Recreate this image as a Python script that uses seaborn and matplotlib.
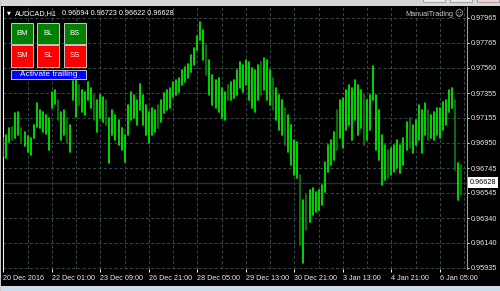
import numpy as np
import pandas as pd
import matplotlib
matplotlib.use("Agg")
import matplotlib.pyplot as plt
from matplotlib.patches import Rectangle
from matplotlib.transforms import blended_transform_factory
from matplotlib.ticker import MultipleLocator
import seaborn as sns

# ---------------- data ----------------
symbol_title = "AUDCAD,H1"
ohlc_text = "0.96694 0.96723 0.96622 0.96628"
current_price = 0.96628
current_label = "0.96628"

# each drawn bar covers two hourly bars (hour index = 2 * bar number)
highs = [0.96990, 0.97015, 0.97072, 0.97080, 0.97193, 0.97202, 0.97072, 0.97039, 0.97007, 0.96990,
         0.97096, 0.97275, 0.97218, 0.97202, 0.97177, 0.97153, 0.97364, 0.97380, 0.97299, 0.97202,
         0.97218, 0.97153, 0.97096, 0.97453, 0.97461, 0.97421, 0.97380, 0.97364, 0.97445, 0.97396,
         0.97340, 0.97299, 0.97340, 0.97323, 0.97299, 0.97153, 0.97218, 0.97177, 0.97137, 0.97072,
         0.97015, 0.97258, 0.97364, 0.97340, 0.97299, 0.97429, 0.97340, 0.97258, 0.97202, 0.97234,
         0.97218, 0.97258, 0.97299, 0.97356, 0.97380, 0.97396, 0.97445, 0.97461, 0.97478, 0.97543,
         0.97567, 0.97591, 0.97664, 0.97721, 0.97819, 0.97932, 0.97867, 0.97746, 0.97624, 0.97502,
         0.97461, 0.97478, 0.97396, 0.97364, 0.97421, 0.97445, 0.97461, 0.97543, 0.97608, 0.97583,
         0.97624, 0.97608, 0.97559, 0.97543, 0.97583, 0.97608, 0.97640, 0.97624, 0.97543, 0.97478,
         0.97396, 0.97340, 0.97299, 0.97234, 0.97177, 0.97096, 0.96974, 0.96958, 0.96690, 0.96487,
         0.96528, 0.96568, 0.96585, 0.96552, 0.96568, 0.96609, 0.96796, 0.96934, 0.96974, 0.97039,
         0.97218, 0.97299, 0.97315, 0.97380, 0.97421, 0.97396, 0.97461, 0.97421, 0.97380, 0.97340,
         0.97299, 0.97340, 0.97575, 0.97340, 0.97218, 0.97015, 0.96934, 0.96893, 0.96909, 0.96934,
         0.96974, 0.96934, 0.96990, 0.97120, 0.97153, 0.97096, 0.97137, 0.97258, 0.97218, 0.97275,
         0.97218, 0.97177, 0.97202, 0.97234, 0.97234, 0.97283, 0.97299, 0.97380, 0.97396, 0.97299,
         0.96787, 0.96771]
lows = [0.96844, 0.96828, 0.96958, 0.96974, 0.96990, 0.97015, 0.96950, 0.96925, 0.96877, 0.96852,
        0.96990, 0.97080, 0.97072, 0.97039, 0.97023, 0.96893, 0.97234, 0.97267, 0.97137, 0.96974,
        0.97015, 0.96950, 0.96877, 0.97299, 0.97161, 0.97258, 0.97202, 0.97177, 0.97299, 0.97234,
        0.97137, 0.97039, 0.97153, 0.97120, 0.97096, 0.96787, 0.97015, 0.96974, 0.96934, 0.96893,
        0.96796, 0.97015, 0.97137, 0.97153, 0.97096, 0.97218, 0.97096, 0.97015, 0.96950, 0.97015,
        0.97039, 0.97072, 0.97120, 0.97193, 0.97218, 0.97234, 0.97323, 0.97340, 0.97364, 0.97421,
        0.97445, 0.97478, 0.97526, 0.97583, 0.97705, 0.97786, 0.97624, 0.97502, 0.97340, 0.97258,
        0.97234, 0.97202, 0.97153, 0.97137, 0.97299, 0.97299, 0.97315, 0.97340, 0.97396, 0.97364,
        0.97421, 0.97299, 0.97234, 0.97202, 0.97299, 0.97340, 0.97380, 0.97299, 0.97258, 0.97218,
        0.97137, 0.97055, 0.97015, 0.96934, 0.96877, 0.96771, 0.96690, 0.96666, 0.96122, 0.95975,
        0.96243, 0.96308, 0.96365, 0.96390, 0.96406, 0.96446, 0.96552, 0.96714, 0.96771, 0.96812,
        0.96893, 0.96990, 0.96909, 0.97055, 0.97096, 0.96974, 0.97137, 0.97015, 0.97072, 0.96934,
        0.96974, 0.97055, 0.97299, 0.96893, 0.96812, 0.96609, 0.96649, 0.96666, 0.96690, 0.96714,
        0.96747, 0.96706, 0.96771, 0.96893, 0.96909, 0.96869, 0.96934, 0.96974, 0.96869, 0.97015,
        0.96974, 0.96990, 0.96974, 0.97015, 0.96990, 0.97055, 0.97096, 0.97202, 0.97234, 0.96731,
        0.96487, 0.96528]
down_bars = [3, 6, 18, 21, 25, 30, 34, 51, 67, 74, 85, 89, 93, 98, 100, 110, 119, 127, 134, 140,
             149, 151]

y_ticks = [0.97965, 0.97765, 0.97560, 0.97355, 0.97155, 0.96950, 0.96745, 0.96545, 0.96340,
           0.96140, 0.95935]
y_tick_labels = ["0.97965", "0.97765", "0.97560", "0.97355", "0.97155", "0.96950", "0.96745",
                 "0.96545", "0.96340", "0.96140", "0.95935"]
x_tick_hours = [0, 32, 64, 96, 128, 160, 192, 224, 256, 288]
x_tick_labels = ["20 Dec 2016", "22 Dec 01:00", "23 Dec 09:00", "26 Dec 21:00", "28 Dec 05:00",
                 "29 Dec 13:00", "30 Dec 21:00", "3 Jan 13:00", "4 Jan 21:00", "6 Jan 05:00"]
buy_buttons = ["BM", "BL", "BS"]
sell_buttons = ["SM", "SL", "SS"]
trail_button = "Activate trailing"
ea_name = "ManualTrading"

# ---------------- frame ----------------
rows = []
for i, (h, l) in enumerate(zip(highs, lows)):
    d = "down" if i in down_bars else "up"
    rows.append((2 * i, l, i, d))
    rows.append((2 * i, h, i, d))
df = pd.DataFrame(rows, columns=["hour", "price", "bar", "dir"])

sns.set_theme(style="dark")
plt.rcParams["font.family"] = ["Liberation Sans", "DejaVu Sans"]
plt.rcParams["lines.scale_dashes"] = False

W, H = 500, 291
fig = plt.figure(figsize=(W / 100, H / 100), dpi=100, facecolor="black")

ax = fig.add_axes([2.5 / W, 22 / H, 464.5 / W, 262 / H])
ax.set_facecolor("black")

grid_c = "#3a5555"
ax.axhline(current_price, color="#243232", lw=1.0, zorder=1.5)

sns.lineplot(data=df, x="hour", y="price", units="bar", estimator=None, hue="dir",
             palette={"up": "#00f000", "down": "#0c7c0c"}, sort=False, legend=False,
             linewidth=1.25, ax=ax, zorder=3)

ax.set_xlim(-0.53, 305.9)
ax.set_ylim(0.959268, 0.980543)

ax.set_xticks(x_tick_hours)
ax.set_xticklabels(x_tick_labels)
ax.xaxis.set_minor_locator(MultipleLocator(16))
ax.set_yticks(y_ticks)
ax.set_yticklabels(y_tick_labels)
ax.yaxis.tick_right()
ax.set_xlabel("")
ax.set_ylabel("")

for lab in ax.get_xticklabels():
    lab.set_horizontalalignment("left")

ax.tick_params(axis="x", which="major", colors="white", labelcolor="#ececec", labelsize=5.2,
               length=2.2, width=0.7, pad=2, direction="out", bottom=True)
ax.tick_params(axis="x", which="minor", length=0, bottom=False)
ax.tick_params(axis="y", which="major", colors="white", labelcolor="#ececec", labelsize=5.2,
               length=1.5, width=0.7, pad=1.2, direction="out", right=True, left=False)

ax.grid(False)
ax.grid(True, which="both", axis="x", color=grid_c, linestyle=(0, (2.2, 1.6)), linewidth=0.6)
ax.grid(True, which="major", axis="y", color=grid_c, linestyle=(0, (2.2, 1.6)), linewidth=0.6)
ax.set_axisbelow(True)

for side in ["top", "bottom"]:
    ax.spines[side].set_visible(False)
ax.spines["left"].set_color("#f0f0f0")
ax.spines["left"].set_linewidth(0.8)
ax.spines["right"].set_color("#9a9a9a")
ax.spines["right"].set_linewidth(0.8)

# current price label on the axis
tr = blended_transform_factory(ax.transAxes, ax.transData)
ax.text(1.0055, current_price, current_label, transform=tr, ha="left", va="center",
        fontsize=5.2, color="black", zorder=10, clip_on=False,
        bbox=dict(boxstyle="square,pad=0.25", facecolor="white", edgecolor="none"))

# ---------------- overlay (window chrome, buttons, texts) in pixel coords ----------------
ov = fig.add_axes([0, 0, 1, 1], facecolor="none")
ov.set_xlim(0, W)
ov.set_ylim(H, 0)
ov.axis("off")
ov.set_zorder(20)

ov.add_patch(Rectangle((0, 0), W, 5.5, facecolor="#d6d6d6", edgecolor="none"))
ov.add_patch(Rectangle((0, 286), W, 5, facecolor="#cfdcee", edgecolor="none"))
ov.add_patch(Rectangle((0, 0), 1.2, H, facecolor="#c8c8c8", edgecolor="none"))
for bx, fc in [(423, "#e8e8e8"), (450, "#e8e8e8"), (477, "#f2d0d0")]:
    ov.add_patch(Rectangle((bx, -2), 22, 4, facecolor=fc, edgecolor="#8a8a8a", lw=0.5))

ov.text(8.5, 12.8, "▼", fontsize=3.6, color="white", ha="center", va="center",
        family=["DejaVu Sans"])
ov.text(15, 13.2, symbol_title, fontsize=5.2, color="white", ha="left", va="center")
ov.text(62.5, 13.2, ohlc_text, fontsize=5.2, color="white", ha="left", va="center")

ov.text(453, 14.3, ea_name, fontsize=5.2, color="#c8c8c8", ha="right", va="center")
ov.text(458.3, 14.3, "☺", fontsize=6, color="#c8c8c8", ha="center", va="center",
        family=["DejaVu Sans"])

bx_pos = [11, 37, 63.7]
for lab, x0 in zip(buy_buttons, bx_pos):
    ov.add_patch(Rectangle((x0, 22.7), 22, 21.6, facecolor="#008000", edgecolor="#c8c8c8", lw=0.7))
    ov.text(x0 + 11, 33.5, lab, fontsize=5.6, color="white", ha="center", va="center")
for lab, x0 in zip(sell_buttons, bx_pos):
    ov.add_patch(Rectangle((x0, 45), 22, 21.6, facecolor="#ff0000", edgecolor="#c8c8c8", lw=0.7))
    ov.text(x0 + 11, 55.8, lab, fontsize=5.6, color="white", ha="center", va="center")
ov.add_patch(Rectangle((11, 69.8), 75, 9.4, facecolor="#0000ff", edgecolor="#c8c8c8", lw=0.7))
ov.text(48.5, 74.6, trail_button, fontsize=6, color="white", ha="center", va="center")

fig.savefig("out.png", dpi=100, facecolor="black")
